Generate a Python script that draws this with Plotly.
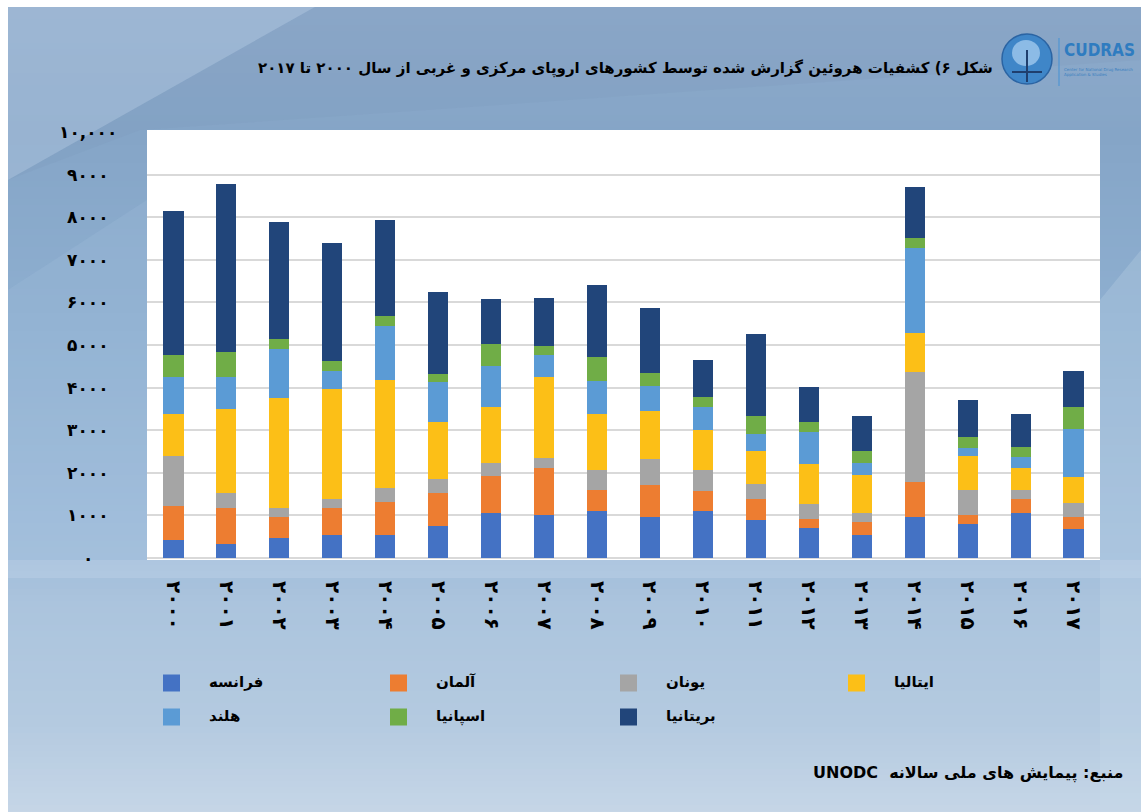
import plotly.graph_objects as go

# ---------------- data ----------------
years = ["۲۰۰۰", "۲۰۰۱", "۲۰۰۲", "۲۰۰۳", "۲۰۰۴", "۲۰۰۵", "۲۰۰۶", "۲۰۰۷", "۲۰۰۸",
         "۲۰۰۹", "۲۰۱۰", "۲۰۱۱", "۲۰۱۲", "۲۰۱۳", "۲۰۱۴", "۲۰۱۵", "۲۰۱۶", "۲۰۱۷"]

france      = [420, 320, 460, 540, 540, 750, 1050, 1000, 1090, 970, 1090, 880, 710, 540, 970, 800, 1050, 670]
germany     = [800, 860, 510, 640, 770, 770, 880, 1100, 510, 745, 470, 505, 205, 300, 810, 210, 335, 300]
greece      = [1175, 340, 210, 205, 330, 335, 290, 250, 470, 600, 510, 345, 345, 210, 2575, 590, 210, 330]
italy       = [980, 1980, 2570, 2580, 2540, 1345, 1315, 1900, 1305, 1140, 940, 790, 940, 900, 920, 785, 510, 595]
netherlands = [870, 740, 1150, 425, 1270, 925, 970, 510, 790, 590, 530, 390, 750, 290, 2000, 195, 260, 1135]
spain       = [525, 600, 245, 240, 240, 190, 510, 210, 565, 290, 250, 420, 250, 280, 235, 250, 250, 510]
britain     = [3380, 3935, 2755, 2755, 2245, 1925, 1055, 1140, 1680, 1540, 860, 1940, 805, 820, 1195, 885, 760, 855]

series_names = ["فرانسه", "آلمان", "یونان", "ایتالیا", "هلند", "اسپانیا", "بریتانیا"]
series_values = [france, germany, greece, italy, netherlands, spain, britain]

y_tick_vals = [0, 1000, 2000, 3000, 4000, 5000, 6000, 7000, 8000, 9000, 10000]
y_tick_text = ["۰", "۱۰۰۰", "۲۰۰۰", "۳۰۰۰", "۴۰۰۰", "۵۰۰۰", "۶۰۰۰", "۷۰۰۰", "۸۰۰۰", "۹۰۰۰", "۱۰,۰۰۰"]

title_text = "شکل ۶) کشفیات هروئین گزارش شده توسط کشورهای اروپای مرکزی و غربی از سال ۲۰۰۰ تا ۲۰۱۷"
source_text = "منبع: پیمایش های ملی سالانه  UNODC"

# ---------------- style ----------------
colors = ["#4472c4", "#ed7d31", "#a5a5a5", "#fcbf17", "#5b9bd5", "#70ad47", "#21457a"]
FONT = "DejaVu Sans"
RLE, PDF = "\u202b", "\u202c"

W, H = 1141, 812
L, R, T, B = 147, 41, 130, 252
PW, PH = W - L - R, H - T - B


def px(x):
    return (x - L) / PW


def py(y):
    return (H - B - y) / PH


def hex2rgb(h):
    h = h.lstrip("#")
    return tuple(int(h[i:i + 2], 16) for i in (0, 2, 4))


def mix(c1, c2, t):
    a, b = hex2rgb(c1), hex2rgb(c2)
    return "rgb(%d,%d,%d)" % tuple(round(a[i] + (b[i] - a[i]) * t) for i in range(3))


fig = go.Figure()
for name, vals, col in zip(series_names, series_values, colors):
    fig.add_trace(go.Bar(x=years, y=vals, name=name, marker=dict(color=col, line=dict(width=0)),
                         showlegend=False))

shapes = []
# background vertical gradient (inset from white frame)
stops = [(7, "#8eaacb"), (130, "#85a5c7"), (320, "#8eafd0"), (560, "#a2bedb"),
         (600, "#abc4dd"), (720, "#b4cae0"), (812, "#c6d6e7")]
step = 6
y = 7
while y < H:
    for (ya, ca), (yb, cb) in zip(stops[:-1], stops[1:]):
        if ya <= y <= yb:
            col = mix(ca, cb, (y - ya) / (yb - ya))
            break
    shapes.append(dict(type="rect", xref="paper", yref="paper", x0=px(8), x1=px(W),
                       y0=py(min(y + step + 1, H)), y1=py(y), fillcolor=col, line=dict(width=0),
                       layer="below"))
    y += step


def poly(points, color):
    path = "M " + " L ".join("%f,%f" % (px(a), py(b)) for a, b in points) + " Z"
    return dict(type="path", xref="paper", yref="paper", path=path, fillcolor=color,
                line=dict(width=0), layer="below")


shapes.append(poly([(8, 7), (315, 7), (8, 180)], "rgba(175,198,222,0.45)"))
shapes.append(poly([(315, 7), (1141, 7), (1141, 60), (140, 130), (8, 180)], "rgba(120,150,185,0.18)"))
shapes.append(poly([(8, 290), (147, 200), (147, 560), (8, 560)], "rgba(170,200,225,0.18)"))
shapes.append(poly([(1100, 300), (1141, 250), (1141, 812), (1100, 812)], "rgba(200,218,235,0.25)"))
shapes.append(poly([(8, 560), (1141, 560), (1141, 578), (8, 578)], "rgba(210,225,240,0.25)"))

# white plot area
shapes.append(dict(type="rect", xref="x domain", yref="y domain", x0=0, x1=1, y0=0, y1=1,
                   fillcolor="white", line=dict(width=0), layer="below"))

# logo
shapes.append(dict(type="circle", xref="paper", yref="paper", x0=px(1002), x1=px(1052),
                   y0=py(84), y1=py(34), fillcolor="#3f86c8", line=dict(color="#2b64a3", width=1.5),
                   layer="above"))
shapes.append(dict(type="circle", xref="paper", yref="paper", x0=px(1012), x1=px(1040),
                   y0=py(66), y1=py(40), fillcolor="#8cbbe6", line=dict(width=0), layer="above"))
shapes.append(dict(type="line", xref="paper", yref="paper", x0=px(1027), x1=px(1027),
                   y0=py(82), y1=py(50), line=dict(color="#1f3f6e", width=2), layer="above"))
shapes.append(dict(type="line", xref="paper", yref="paper", x0=px(1012), x1=px(1042),
                   y0=py(72), y1=py(72), line=dict(color="#1f3f6e", width=2), layer="above"))
shapes.append(dict(type="line", xref="paper", yref="paper", x0=px(1059), x1=px(1059),
                   y0=py(86), y1=py(38), line=dict(color="#4f95d3", width=1.2), layer="above"))

annotations = []
# y tick labels centred like the original
for v, t in zip(y_tick_vals, y_tick_text):
    annotations.append(dict(x=px(88), xref="paper", y=v, yref="y", text=t, showarrow=False,
                            xanchor="center", yanchor="middle",
                            font=dict(family=FONT, size=17, color="black", weight="bold")))

# title
annotations.append(dict(x=px(995), xref="paper", y=py(68), yref="paper", text=RLE + title_text + PDF,
                        showarrow=False, xanchor="right", yanchor="middle",
                        font=dict(family=FONT, size=15, color="black", weight="bold")))

# logo text
annotations.append(dict(x=px(1062), xref="paper", y=py(50), yref="paper", text="CUDRAS",
                        showarrow=False, xanchor="left", yanchor="middle",
                        font=dict(family="DejaVu Sans Condensed, DejaVu Sans", size=17,
                                  color="#2f7cc0", weight="bold")))
annotations.append(dict(x=px(1062), xref="paper", y=py(72), yref="paper",
                        text="Center for National Drug Research<br>Application & Studies",
                        showarrow=False, xanchor="left", yanchor="middle", align="left",
                        font=dict(family="DejaVu Sans", size=4, color="#3a80c0")))

# legend (manual, same layout as original)
col_x = [163, 390, 620, 848]
row_y = [683, 717]
for i, (name, col) in enumerate(zip(series_names, colors)):
    r, c = divmod(i, 4)
    x0 = col_x[c]
    yc = row_y[r]
    shapes.append(dict(type="rect", xref="paper", yref="paper", x0=px(x0), x1=px(x0 + 17),
                       y0=py(yc + 8.5), y1=py(yc - 8.5), fillcolor=col, line=dict(width=0),
                       layer="above"))
    annotations.append(dict(x=px(x0 + 17 + 27), xref="paper", y=py(yc - 1), yref="paper",
                            text=name, showarrow=False, xanchor="left", yanchor="middle",
                            font=dict(family=FONT, size=15, color="black", weight="bold")))

# source
annotations.append(dict(x=px(1125), xref="paper", y=py(773), yref="paper", text=RLE + source_text + PDF,
                        showarrow=False, xanchor="right", yanchor="middle",
                        font=dict(family=FONT, size=16, color="black", weight="bold")))

fig.update_layout(
    width=W, height=H,
    margin=dict(l=L, r=R, t=T, b=B, pad=0),
    barmode="stack",
    bargap=0.62,
    paper_bgcolor="white",
    plot_bgcolor="white",
    showlegend=False,
    shapes=shapes,
    annotations=annotations,
    xaxis=dict(type="category", tickangle=90, showgrid=False, zeroline=False, showline=False,
               ticks="", ticklabelstandoff=20,
               tickfont=dict(family=FONT, size=20, color="black", weight="bold")),
    yaxis=dict(range=[-50, 10050], tickvals=y_tick_vals[:-1], showticklabels=False, ticks="",
               showgrid=True, gridcolor="#d9d9d9", gridwidth=1.6, zeroline=False, showline=False),
)

fig.write_html("out.html", config={"displayModeBar": False},
               post_script="document.body.style.margin='0';document.body.style.padding='0';")
